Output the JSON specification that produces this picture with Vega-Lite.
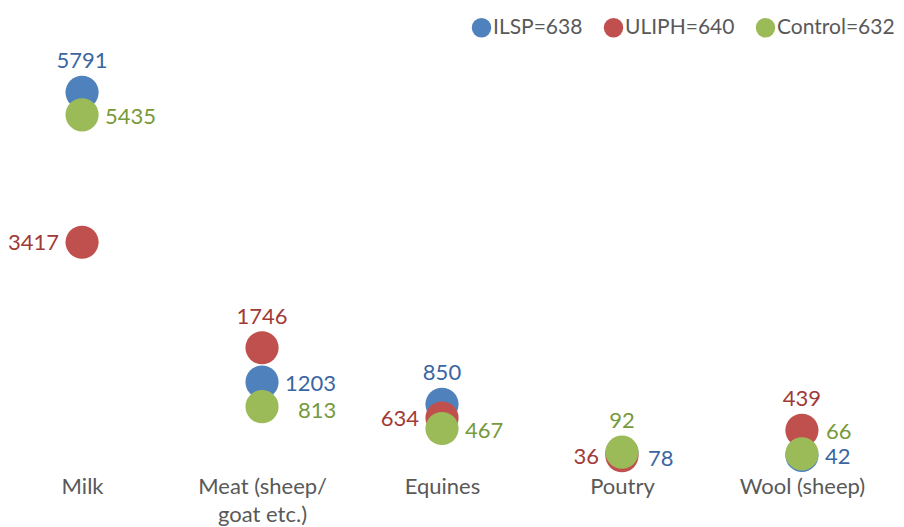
{
  "$schema": "https://vega.github.io/schema/vega-lite/v6.json",
  "width": 884,
  "height": 442,
  "autosize": "none",
  "padding": {"top": 16, "left": 0, "right": 20, "bottom": 69},
  "background": "white",
  "config": {"view": {"stroke": null}, "font": "Lato"},
  "data": {
    "values": [
      {"item": "Milk", "group": "ILSP=638", "value": 5791, "labelPos": "above"},
      {"item": "Milk", "group": "ULIPH=640", "value": 3417, "labelPos": "left"},
      {"item": "Milk", "group": "Control=632", "value": 5435, "labelPos": "right"},
      {"item": "Meat (sheep/ goat etc.)", "group": "ULIPH=640", "value": 1746, "labelPos": "above"},
      {"item": "Meat (sheep/ goat etc.)", "group": "ILSP=638", "value": 1203, "labelPos": "right"},
      {"item": "Meat (sheep/ goat etc.)", "group": "Control=632", "value": 813, "labelPos": "right-far"},
      {"item": "Equines", "group": "ILSP=638", "value": 850, "labelPos": "above"},
      {"item": "Equines", "group": "ULIPH=640", "value": 634, "labelPos": "left"},
      {"item": "Equines", "group": "Control=632", "value": 467, "labelPos": "right"},
      {"item": "Poutry", "group": "ILSP=638", "value": 78, "labelPos": "right-down"},
      {"item": "Poutry", "group": "ULIPH=640", "value": 36, "labelPos": "left"},
      {"item": "Poutry", "group": "Control=632", "value": 92, "labelPos": "above"},
      {"item": "Wool (sheep)", "group": "ILSP=638", "value": 42, "labelPos": "right"},
      {"item": "Wool (sheep)", "group": "ULIPH=640", "value": 439, "labelPos": "above"},
      {"item": "Wool (sheep)", "group": "Control=632", "value": 66, "labelPos": "right-up"}
    ]
  },
  "encoding": {
    "x": {
      "field": "item",
      "type": "nominal",
      "sort": null,
      "scale": {"type": "point", "padding": 0.456},
      "axis": {
        "title": null,
        "domain": false,
        "ticks": false,
        "labelAngle": 0,
        "labelFontSize": 22,
        "labelColor": "#595959",
        "labelPadding": 18,
        "labelLineHeight": 28,
        "labelFont": "Lato",
        "labelExpr": "indexof(datum.label, '/ ') >= 0 ? [slice(datum.label, 0, indexof(datum.label, '/ ') + 1), slice(datum.label, indexof(datum.label, '/ ') + 2)] : datum.label"
      }
    },
    "y": {
      "field": "value",
      "type": "quantitative",
      "scale": {"domain": [0, 7000], "nice": false},
      "axis": null
    }
  },
  "layer": [
    {
      "mark": {"type": "point", "filled": true, "opacity": 1, "size": 1100},
      "encoding": {
        "color": {
          "field": "group",
          "type": "nominal",
          "scale": {
            "domain": ["ILSP=638", "ULIPH=640", "Control=632"],
            "range": ["#4F81BD", "#C0504D", "#9BBB59"]
          },
          "legend": {
            "title": null,
            "orient": "none",
            "direction": "horizontal",
            "legendX": 471,
            "legendY": 1,
            "symbolSize": 380,
            "symbolType": "circle",
            "symbolOpacity": 1,
            "labelFontSize": 21,
            "labelColor": "#595959",
            "labelFont": "Lato",
            "labelOffset": 1,
            "columnPadding": 20
          }
        }
      }
    },
    {
      "transform": [{"filter": "datum.labelPos == 'above'"}],
      "mark": {"type": "text", "fontSize": 22, "align": "center", "baseline": "middle", "dy": -31},
      "encoding": {
        "text": {"field": "value", "type": "quantitative"},
        "fill": {
          "field": "group", "type": "nominal", "legend": null,
          "scale": {"domain": ["ILSP=638", "ULIPH=640", "Control=632"], "range": ["#3A66A3", "#A03A38", "#779A3A"]}
        }
      }
    },
    {
      "transform": [{"filter": "datum.labelPos == 'left'"}],
      "mark": {"type": "text", "fontSize": 22, "align": "right", "baseline": "middle", "dx": -23, "dy": 1},
      "encoding": {
        "text": {"field": "value", "type": "quantitative"},
        "fill": {"field": "group", "type": "nominal", "legend": null}
      }
    },
    {
      "transform": [{"filter": "datum.labelPos == 'right'"}],
      "mark": {"type": "text", "fontSize": 22, "align": "left", "baseline": "middle", "dx": 23, "dy": 2},
      "encoding": {
        "text": {"field": "value", "type": "quantitative"},
        "fill": {"field": "group", "type": "nominal", "legend": null}
      }
    },
    {
      "transform": [{"filter": "datum.labelPos == 'right-far'"}],
      "mark": {"type": "text", "fontSize": 22, "align": "left", "baseline": "middle", "dx": 36, "dy": 4},
      "encoding": {
        "text": {"field": "value", "type": "quantitative"},
        "fill": {"field": "group", "type": "nominal", "legend": null}
      }
    },
    {
      "transform": [{"filter": "datum.labelPos == 'right-up'"}],
      "mark": {"type": "text", "fontSize": 22, "align": "left", "baseline": "middle", "dx": 24, "dy": -22},
      "encoding": {
        "text": {"field": "value", "type": "quantitative"},
        "fill": {"field": "group", "type": "nominal", "legend": null}
      }
    },
    {
      "transform": [{"filter": "datum.labelPos == 'right-down'"}],
      "mark": {"type": "text", "fontSize": 22, "align": "left", "baseline": "middle", "dx": 26, "dy": 6},
      "encoding": {
        "text": {"field": "value", "type": "quantitative"},
        "fill": {"field": "group", "type": "nominal", "legend": null}
      }
    }
  ]
}
